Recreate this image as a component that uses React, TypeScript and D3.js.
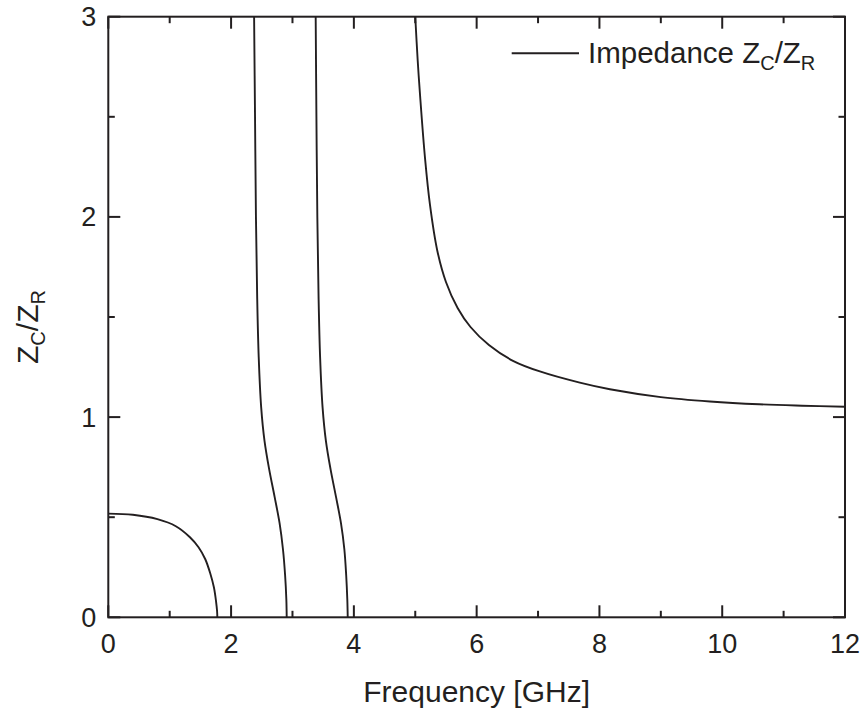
import React from "react";
import * as d3 from "d3";

// Branch data (frequency GHz, Zc/Zr)
const branch1X = [0, 0.4, 0.8, 1.1, 1.33, 1.47, 1.58, 1.66, 1.72, 1.755, 1.772, 1.776];
const branch1Y = [0.518, 0.512, 0.49, 0.455, 0.40, 0.35, 0.29, 0.22, 0.15, 0.08, 0.03, 0];

const branch2X = [2.375, 2.39, 2.405, 2.425, 2.45, 2.49, 2.545, 2.62, 2.71, 2.79, 2.845, 2.88, 2.9, 2.906];
const branch2Y = [3.0, 2.5, 2.0, 1.6, 1.3, 1.05, 0.88, 0.74, 0.60, 0.47, 0.34, 0.21, 0.09, 0];

const branch3X = [3.378, 3.39, 3.405, 3.425, 3.45, 3.49, 3.545, 3.62, 3.71, 3.79, 3.845, 3.875, 3.893, 3.9];
const branch3Y = [3.0, 2.5, 2.0, 1.6, 1.3, 1.05, 0.88, 0.74, 0.60, 0.47, 0.34, 0.21, 0.09, 0];

const branch4X = [5.0, 5.04, 5.08, 5.16, 5.24, 5.36, 5.5, 5.69, 5.9, 6.2, 6.6, 7.03, 7.68, 8.17, 9.0, 9.8, 10.6, 11.3, 12];
const branch4Y = [3.0, 2.78, 2.6, 2.29, 2.06, 1.83, 1.675, 1.545, 1.45, 1.36, 1.28, 1.228, 1.172, 1.139, 1.10, 1.078, 1.064, 1.057, 1.052];

const xMajorTicks = [0, 2, 4, 6, 8, 10, 12];
const xMinorTicks = [1, 3, 5, 7, 9, 11];
const yMajorTicks = [0, 1, 2, 3];
const yMinorTicks = [0.5, 1.5, 2.5];

const legendLabel = "Impedance Z";
const xTitle = "Frequency [GHz]";

const W = 864, H = 713;
const L = 108.3, R = 845, T = 16.7, B = 617.3;
const INK = "#231f20";
const FONT = "'Liberation Sans', Arial, Helvetica, sans-serif";

export default function App() {
  const x = d3.scaleLinear().domain([0, 12]).range([L, R]);
  const y = d3.scaleLinear().domain([0, 3]).range([B, T]);

  const mk = d3.line<[number, number]>().x(d => x(d[0])).y(d => y(d[1])).curve(d3.curveCatmullRom.alpha(0.5));
  const zip = (a: number[], b: number[]) => a.map((v, i) => [v, b[i]] as [number, number]);

  const paths = [
    mk(zip(branch1X, branch1Y)),
    mk(zip(branch2X, branch2Y)),
    mk(zip(branch3X, branch3Y)),
    mk(zip(branch4X, branch4Y)),
  ];

  const major = 12, minor = 6.5;

  return (
    <svg width={W} height={H} style={{ position: "absolute", left: 0, top: 0, background: "#fff" }}>
      <defs>
        <clipPath id="plot">
          <rect x={L} y={T} width={R - L} height={B - T} />
        </clipPath>
      </defs>
      <rect x={0} y={0} width={W} height={H} fill="#fff" />
      <g clipPath="url(#plot)">
        {paths.map((p, i) => (
          <path key={i} d={p || ""} fill="none" stroke={INK} strokeWidth={1.9} />
        ))}
      </g>
      {/* ticks */}
      <g stroke={INK} strokeWidth={2}>
        {xMajorTicks.map(t => (
          <g key={"xm" + t}>
            <line x1={x(t)} x2={x(t)} y1={B} y2={B - major} />
            <line x1={x(t)} x2={x(t)} y1={T} y2={T + major} />
          </g>
        ))}
        {xMinorTicks.map(t => (
          <g key={"xn" + t}>
            <line x1={x(t)} x2={x(t)} y1={B} y2={B - minor} />
            <line x1={x(t)} x2={x(t)} y1={T} y2={T + minor} />
          </g>
        ))}
        {yMajorTicks.map(t => (
          <g key={"ym" + t}>
            <line x1={L} x2={L + major} y1={y(t)} y2={y(t)} />
            <line x1={R} x2={R - major} y1={y(t)} y2={y(t)} />
          </g>
        ))}
        {yMinorTicks.map(t => (
          <g key={"yn" + t}>
            <line x1={L} x2={L + minor} y1={y(t)} y2={y(t)} />
            <line x1={R} x2={R - minor} y1={y(t)} y2={y(t)} />
          </g>
        ))}
      </g>
      <rect x={L} y={T} width={R - L} height={B - T} fill="none" stroke={INK} strokeWidth={2} />
      {/* tick labels */}
      <g fontFamily={FONT} fill={INK}>
        {xMajorTicks.map(t => (
          <text key={"xl" + t} x={x(t)} y={B + 36} textAnchor="middle" fontSize={27}>{t}</text>
        ))}
        {yMajorTicks.map(t => (
          <text key={"yl" + t} x={L - 12} y={y(t) + 9.5} textAnchor="end" fontSize={27}>{t}</text>
        ))}
        <text x={(L + R) / 2} y={702} textAnchor="middle" fontSize={30}>{xTitle}</text>
        <text transform={`translate(38, 327) rotate(-90)`} textAnchor="middle" fontSize={30}>
          Z<tspan fontSize={20} dy={7}>C</tspan><tspan dy={-7}>/Z</tspan><tspan fontSize={20} dy={7}>R</tspan>
        </text>
        {/* legend */}
        <line x1={511.7} x2={579} y1={53.3} y2={53.3} stroke={INK} strokeWidth={1.9} />
        <text x={588} y={63} fontSize={29.5}>
          {legendLabel}<tspan fontSize={20} dy={7}>C</tspan><tspan dy={-7}>/Z</tspan><tspan fontSize={20} dy={7}>R</tspan>
        </text>
      </g>
    </svg>
  );
}
